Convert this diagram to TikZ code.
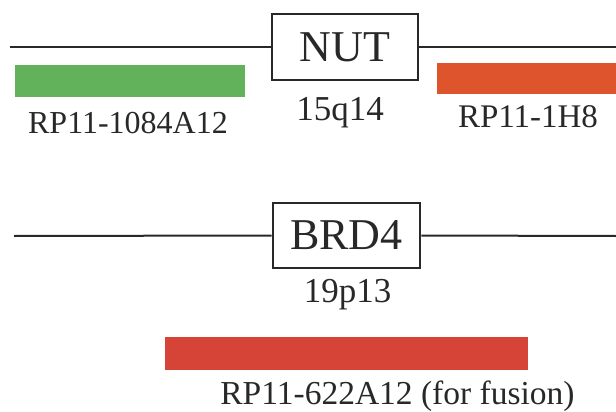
\documentclass[tikz,border=0pt]{standalone}
\usepackage{fontspec}
\setmainfont{Liberation Serif}
\definecolor{probegreen}{RGB}{98,178,92}
\definecolor{probeorange}{RGB}{222,84,45}
\definecolor{probered}{RGB}{214,68,56}
\definecolor{inkgray}{RGB}{40,40,40}
\begin{document}
\begin{tikzpicture}[x=1pt,y=-1pt,
  genebox/.style={draw=inkgray,line width=2.6pt,fill=white,inner sep=0pt,text=inkgray,
    font=\fontsize{44}{50}\selectfont},
  chrline/.style={draw=inkgray,line width=2pt},
  probebar/.style={inner sep=0pt,draw=none},
  lbl/.style={anchor=base,inner sep=0pt,text=inkgray,font=\fontsize{33}{38}\selectfont},
  band/.style={anchor=base,inner sep=0pt,text=inkgray,font=\fontsize{35}{40}\selectfont}]
\useasboundingbox (0,0) rectangle (616,412);
% NUT row
\node[genebox,minimum width=146pt,minimum height=66pt] (nut) at (345,47) {NUT};
\coordinate (nutL) at (10,47);
\coordinate (nutR) at (616,47);
\draw[chrline] (nutL) -- (nut.west);
\draw[chrline] (nut.east) -- (nutR);
\node[probebar,fill=probegreen,minimum width=230pt,minimum height=32pt] (green) at (130,81) {};
\node[probebar,fill=probeorange,minimum width=180pt,minimum height=31pt] (orange) at (527,78.5) {};
\node[lbl,font=\fontsize{32}{37}\selectfont] (lblA) at (128,133) {RP11-1084A12};
\node[band] (bandA) at (340,120) {15q14};
\node[lbl] (lblB) at (528,127) {RP11-1H8};
% BRD4 row
\node[genebox,minimum width=147pt,minimum height=65pt] (brd) at (346.5,235.5) {BRD4};
\coordinate (brdL) at (14,236);
\coordinate (brdR) at (616,236);
\draw[chrline] (brdL) -- (brd.west);
\draw[chrline] (brd.east) -- (brdR);
\node[band] (bandB) at (347.5,302) {19p13};
\node[probebar,fill=probered,minimum width=363pt,minimum height=33pt] (redbar) at (346.5,353.5) {};
\node[lbl,font=\fontsize{33.5}{38}\selectfont] (lblC) at (397.5,404) {RP11-622A12 (for fusion)};
\end{tikzpicture}
\end{document}
